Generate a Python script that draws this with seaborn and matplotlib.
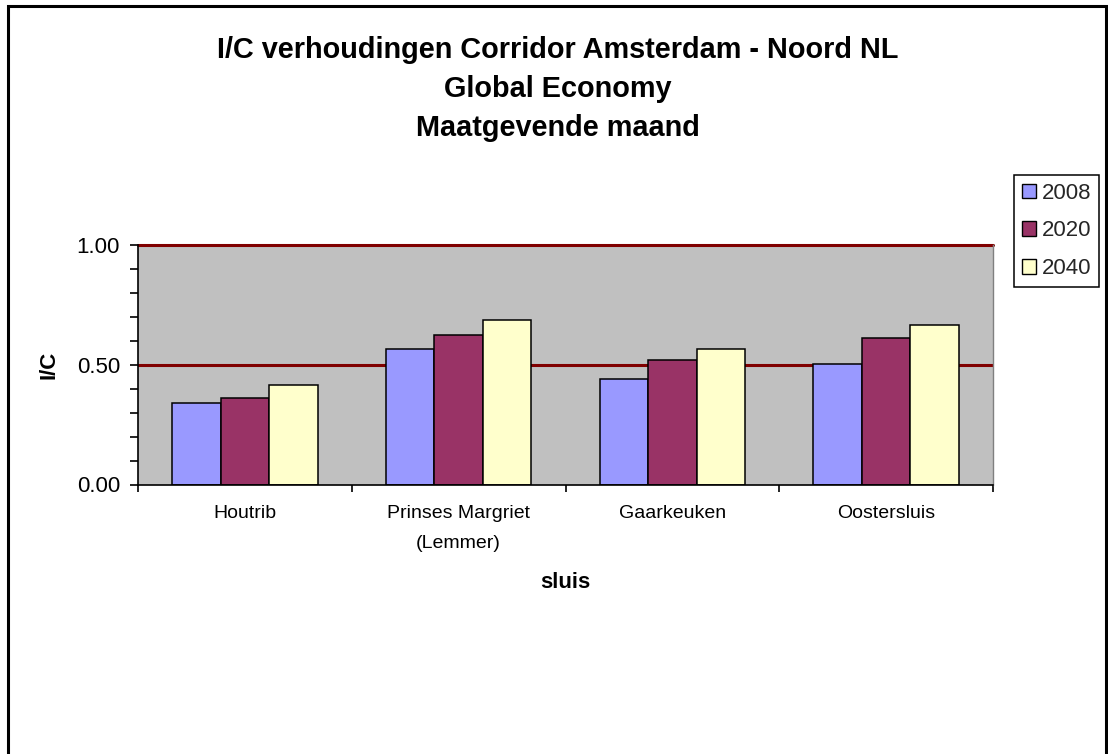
import numpy as np
import pandas as pd
import seaborn as sns
import matplotlib
matplotlib.use("Agg")
import matplotlib.pyplot as plt
from matplotlib.ticker import MultipleLocator, FixedLocator, FormatStrFormatter
from matplotlib.patches import Rectangle

# ---- data ----
sluizen = ["Houtrib", "Prinses Margriet\n(Lemmer)", "Gaarkeuken", "Oostersluis"]
jaren = ["2008", "2020", "2040"]
ic_2008 = [0.34, 0.565, 0.44, 0.505]
ic_2020 = [0.36, 0.625, 0.52, 0.61]
ic_2040 = [0.415, 0.685, 0.565, 0.665]
kleuren = ["#9999FF", "#993366", "#FFFFCC"]

df = pd.DataFrame({
    "sluis": sluizen * 3,
    "jaar": [j for j in jaren for _ in sluizen],
    "ic": ic_2008 + ic_2020 + ic_2040,
})

sns.set_theme(style="white")
plt.rcParams["font.family"] = ["Liberation Sans", "DejaVu Sans"]

W, H = 1108, 754
fig = plt.figure(figsize=(W / 100, H / 100), dpi=100)
fig.patch.set_facecolor("white")

x0, x1 = 138, 993
y_top, y_bot = 245, 484.5
ax = fig.add_axes([x0 / W, (H - y_bot) / H, (x1 - x0) / W, (y_bot - y_top) / H])
ax.set_facecolor("#C0C0C0")

sns.barplot(data=df, x="sluis", y="ic", hue="jaar", hue_order=jaren,
            palette=kleuren, width=0.68, edgecolor="black", linewidth=1.1,
            saturation=1, errorbar=None, ax=ax, zorder=2)

ax.axhline(0.5, color="#800000", lw=2.2, zorder=1)
ax.axhline(1.0, color="#800000", lw=2.2, zorder=1, clip_on=False)

ax.set_xlim(-0.5, 3.5)
ax.set_ylim(0, 1.0)

ax.spines["top"].set_visible(False)
ax.spines["right"].set_color("#808080")
ax.spines["right"].set_linewidth(1.0)
for s in ["left", "bottom"]:
    ax.spines[s].set_color("black")
    ax.spines[s].set_linewidth(1.2)

ax.yaxis.set_major_locator(FixedLocator([0.0, 0.5, 1.0]))
ax.yaxis.set_minor_locator(MultipleLocator(0.1))
ax.yaxis.set_major_formatter(FormatStrFormatter("%.2f"))
ax.tick_params(axis="y", which="both", direction="out", length=6, width=1.2,
               color="black", left=True, labelsize=16, pad=7, labelcolor="black")

ax.xaxis.set_minor_locator(FixedLocator([-0.5, 0.5, 1.5, 2.5, 3.5]))
ax.tick_params(axis="x", which="major", length=0, labelsize=14, pad=15, labelcolor="black")
ax.tick_params(axis="x", which="minor", direction="out", length=5, width=1.2,
               color="black", bottom=True)
for lab in ax.get_xticklabels():
    lab.set_linespacing(1.95)

ax.set_xlabel("sluis", fontsize=16, fontweight="bold", color="black")
ax.xaxis.label.set_verticalalignment("center")
ax.xaxis.set_label_coords(0.5, (y_bot - 582) / (y_bot - y_top))
ax.set_ylabel("I/C", fontsize=16, fontweight="bold", color="black")
ax.yaxis.label.set_verticalalignment("center")
ax.yaxis.set_label_coords((49 - x0) / (x1 - x0), 0.5)

fig.suptitle("I/C verhoudingen Corridor Amsterdam - Noord NL\nGlobal Economy\nMaatgevende maand",
             x=558 / W, y=1 - 36 / H, va="top", ha="center",
             fontsize=20.8, fontweight="bold", linespacing=1.5, color="black")

leg = ax.legend(loc="upper left", bbox_to_anchor=(1014 / W, 1 - 175 / H),
                bbox_transform=fig.transFigure, frameon=True, fancybox=False,
                edgecolor="black", framealpha=1, fontsize=16,
                handlelength=0.65, handleheight=0.65, handletextpad=0.25,
                labelspacing=0.75, borderpad=0.35, borderaxespad=0, title=None)
leg.get_frame().set_linewidth(1.1)
for h in leg.legend_handles:
    h.set_edgecolor("black")
    h.set_linewidth(1.0)

border = Rectangle((8 / W, -0.05), (1106 - 8) / W, (H - 6) / H + 0.05,
                   transform=fig.transFigure, fill=False, edgecolor="black",
                   lw=2.2, clip_on=False)
fig.add_artist(border)

fig.savefig("out.png", dpi=100)
